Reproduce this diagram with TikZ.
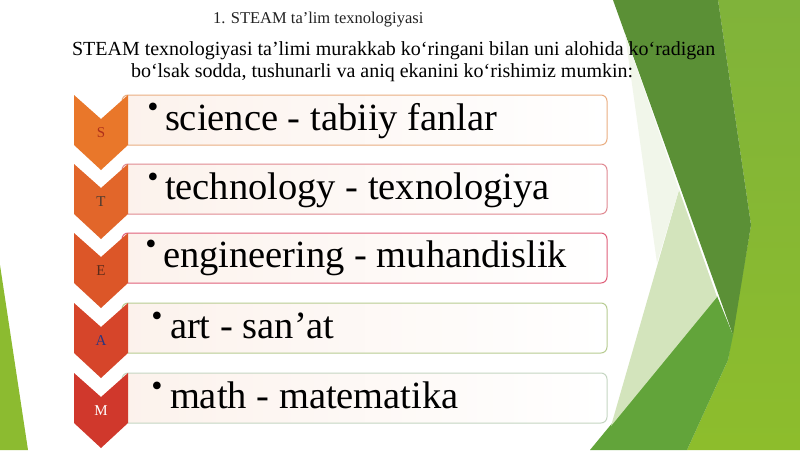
\documentclass[tikz,border=0pt]{standalone}
\usepackage{fontspec}
\setmainfont{Liberation Serif}
\definecolor{leftgreen}{HTML}{8CBB30}
\definecolor{darkgreen}{HTML}{5B9036}
\definecolor{medgreen}{HTML}{62A43A}
\definecolor{rgtop}{HTML}{80B33A}
\definecolor{rgbot}{HTML}{8DBD2C}
\definecolor{palegreen}{HTML}{D3E4BC}
\definecolor{faintgreen}{HTML}{F1F6EA}
\definecolor{chevS}{HTML}{E9772A}
\definecolor{chevT}{HTML}{E2662A}
\definecolor{chevE}{HTML}{DC5628}
\definecolor{chevA}{HTML}{D6452A}
\definecolor{chevM}{HTML}{D0382C}
\definecolor{boxS}{HTML}{EAAE82}
\definecolor{boxT}{HTML}{E08A92}
\definecolor{boxE}{HTML}{E0607A}
\definecolor{boxA}{HTML}{B8CC92}
\definecolor{boxM}{HTML}{C5D6C2}
\definecolor{boxtint}{HTML}{FCF2EC}
\definecolor{letS}{HTML}{B0301A}
\definecolor{letT}{HTML}{4A3A30}
\definecolor{letE}{HTML}{5A2A1A}
\definecolor{letA}{HTML}{2A3580}
\definecolor{letM}{HTML}{FFFFFF}
\definecolor{titlegray}{HTML}{222222}
\tikzset{
  plaintext/.style={inner sep=0pt, outer sep=0pt, anchor=base west, text=black},
  itemtext/.style={plaintext, font=\fontsize{38.5}{40}\selectfont},
  bullettext/.style={inner sep=0pt, outer sep=0pt, anchor=base, text=black, font=\fontsize{32}{32}\selectfont},
  lettertext/.style={inner sep=0pt, outer sep=0pt, anchor=center, font=\fontsize{15}{15}\selectfont},
  listbox/.style={rounded corners=6pt, line width=1pt, left color=boxtint, right color=white},
}
\begin{document}
\begin{tikzpicture}[x=1pt,y=-1pt]
\useasboundingbox (0,0) rectangle (800,450);
\fill[white] (0,0) rectangle (800,450);
% background facets
\fill[leftgreen] (0,265) -- (28,450) -- (0,450) -- cycle;
\shade[top color=rgtop, bottom color=rgbot] (718,0) -- (800,0) -- (800,450) -- (687,450) -- (728,360) -- (733,330) -- (751,225) -- cycle;
\fill[darkgreen] (613,0) -- (718,0) -- (751,225) -- (733,335) -- cycle;
\fill[medgreen] (590,450) -- (717,296) -- (733,335) -- (728,360) -- (687,450) -- cycle;
\fill[palegreen] (679,190) -- (717,297) -- (611,426) -- cycle;
\fill[faintgreen] (625,34) -- (679,190) -- (657,263) -- cycle;
% list
\foreach \t/\c/\b/\lc/\L in {95/chevS/boxS/letS/S, 164/chevT/boxT/letT/T, 233/chevE/boxE/letE/E, 303/chevA/boxA/letA/A, 373/chevM/boxM/letM/M}{
  \shadedraw[listbox, draw=\b] (122,\t) rectangle (607,\t+50);
  \fill[\c] (74,\t) -- (101,\t+24) -- (128,\t) -- (128,\t+50) -- (101,\t+75) -- (74,\t+50) -- cycle;
  \node[lettertext, text=\lc] (let\L) at (101,\t+38) {\L};
}
% titles
\node[plaintext, text=titlegray, font=\fontsize{16.5}{18}\selectfont] (title) at (213,23) {1. STEAM ta’lim texnologiyasi};
\node[plaintext, font=\fontsize{20}{22}\selectfont] (lineA) at (72,55) {STEAM texnologiyasi ta’limi murakkab ko‘ringani bilan uni alohida ko‘radigan};
\node[plaintext, font=\fontsize{20}{22}\selectfont] (lineB) at (131,77) {bo‘lsak sodda, tushunarli va aniq ekanini ko‘rishimiz mumkin:};
% items
\node[bullettext] (bS) at (153,117) {•};
\node[itemtext] (iS) at (165,130) {science - tabiiy fanlar};
\node[bullettext] (bT) at (153,187) {•};
\node[itemtext] (iT) at (165,199) {technology - texnologiya};
\node[bullettext] (bE) at (151,254) {•};
\node[itemtext] (iE) at (163,267) {engineering - muhandislik};
\node[bullettext] (bA) at (157,326) {•};
\node[itemtext] (iA) at (170,338) {art - san’at};
\node[bullettext] (bM) at (157,396) {•};
\node[itemtext] (iM) at (170,408) {math - matematika};
\end{tikzpicture}
\end{document}
